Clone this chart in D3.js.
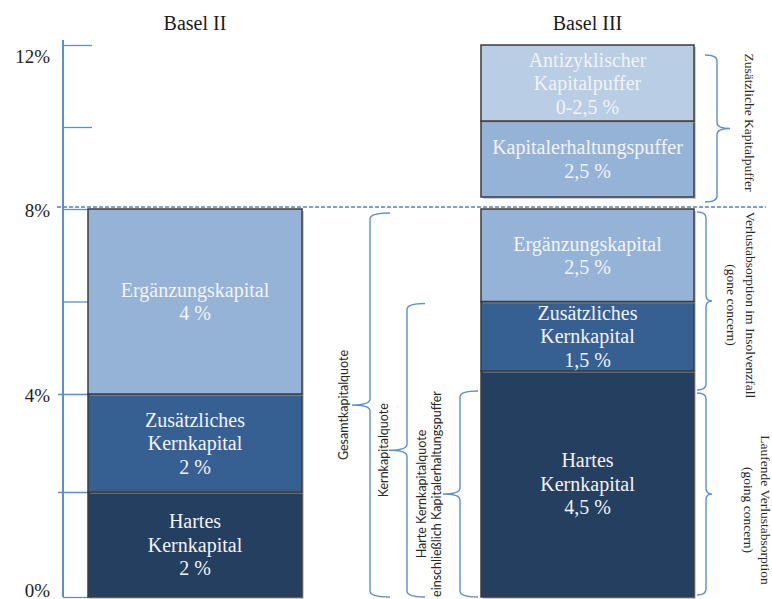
<!DOCTYPE html>
<html lang="de">
<head>
<meta charset="utf-8">
<title>Basel II / Basel III</title>
<script src="https://d3js.org/d3.v7.min.js"></script>
<style>
  body { margin: 0; background: #fff; }
  svg text { font-family: "Liberation Serif", "Times New Roman", serif; }
  svg text.sans { font-family: Lato, "Liberation Sans", sans-serif; }
</style>
</head>
<body>
<svg id="chart" width="772" height="599"></svg>
<script>
// ---- data ----
var frameworks = ["Basel II", "Basel III"];

var basel2Names = [["Hartes", "Kernkapital"], ["Zusätzliches", "Kernkapital"], ["Ergänzungskapital"]];
var basel2Values = [2, 2, 4];
var basel2Labels = ["2 %", "2 %", "4 %"];

var basel3Names = [["Hartes", "Kernkapital"], ["Zusätzliches", "Kernkapital"], ["Ergänzungskapital"]];
var basel3Values = [4.5, 1.5, 2.5];
var basel3Labels = ["4,5 %", "1,5 %", "2,5 %"];

var bufferNames = [["Kapitalerhaltungspuffer"], ["Antizyklischer", "Kapitalpuffer"]];
var bufferValues = [2.5, 2.5];
var bufferLabels = ["2,5 %", "0-2,5 %"];

var totalCap = 8; // Gesamtkapitalquote, top of the minimum block

var yTicks = [0, 2, 4, 6, 8, 10, 12];
var yTickLabels = ["0%", "", "4%", "", "8%", "", "12%"];

var midBraces = [
  {label: ["Gesamtkapitalquote"], from: 0, to: 8},
  {label: ["Kernkapitalquote"], from: 0, to: 6},
  {label: ["Harte Kernkapitalquote", "einschließlich Kapitalerhaltungspuffer"], from: 0, to: 4}
];
var rightBraces = [
  {label: ["Verlustabsorption im Insolvenzfall", "(gone concern)"], from: 4, to: 8},
  {label: ["Laufende Verlustabsorption", "(going concern)"], from: 0, to: 4}
];
var bufferBrace = {label: ["Zusätzliche Kapitalpuffer"], from: 0, to: 5};

// ---- layout ----
var svg = d3.select("#chart");
var blue = "#5b8fd0";

// schematic (not to scale) axis, piecewise
var y = d3.scaleLinear().domain([0, 2, 4, 8, 12]).range([597, 492, 394, 209, 45]);
var yBuf = d3.scaleLinear().domain([0, 5]).range([y(totalCap) - 12, y(12)]);

var xLeft = d3.scaleOrdinal().domain(frameworks).range([88, 481]);
var xRight = d3.scaleOrdinal().domain(frameworks).range([302, 694]);

var darkCol = d3.scaleOrdinal().domain(["Hartes", "Zusätzliches", "Ergänzungskapital"])
  .range(["#243f60", "#376092", "#95b3d7"]);
var bufCol = d3.scaleOrdinal().domain(["Kapitalerhaltungspuffer", "Antizyklischer"])
  .range(["#95b3d7", "#b9cde5"]);

function stack(values, names, labels) {
  var c = 0;
  return values.map(function (v, i) {
    var s = {y0: c, y1: c + v, name: names[i], label: labels[i]};
    c += v;
    return s;
  });
}

// axis
var axis = d3.axisRight(y).tickValues(yTicks).tickSize(29).tickSizeOuter(0).tickFormat("");
var gAxis = svg.append("g").attr("transform", "translate(63,0)").call(axis);
gAxis.select(".domain").remove();
gAxis.selectAll(".tick line").attr("stroke", blue).attr("stroke-width", 1.3)
  .attr("x1", function (d) { return (d == 2 || d == 4) ? -5 : 0; });
svg.append("line").attr("x1", 63).attr("x2", 63).attr("y1", y(12) - 5).attr("y2", y(0))
  .attr("stroke", blue).attr("stroke-width", 2);

svg.append("g").selectAll("text").data(yTicks.filter(function (d, i) { return yTickLabels[i]; }))
  .join("text")
  .attr("x", 50).attr("text-anchor", "end")
  .attr("y", function (d) { return Math.min(Math.max(y(d) + 1, 56), 590); })
  .attr("dominant-baseline", "central")
  .attr("font-size", 19).attr("fill", "#222")
  .text(function (d) { return yTickLabels[yTicks.indexOf(d)]; });

// titles
svg.append("g").selectAll("text").data(frameworks).join("text")
  .attr("x", function (d) { return (xLeft(d) + xRight(d)) / 2; })
  .attr("y", 30).attr("text-anchor", "middle")
  .attr("font-size", 20).attr("fill", "#1a1a1a")
  .text(function (d) { return d; });

// boxes
function drawBox(fw, s, ys, fill) {
  var x0 = xLeft(fw), x1 = xRight(fw);
  var top = ys(s.y1), bot = ys(s.y0);
  svg.append("rect").attr("x", x0 + 2).attr("y", top + 2).attr("width", x1 - x0).attr("height", bot - top)
    .attr("fill", "#999").attr("opacity", 0.5);
  svg.append("rect").attr("x", x0).attr("y", top).attr("width", x1 - x0).attr("height", bot - top)
    .attr("fill", fill).attr("stroke", "#3b3b3b").attr("stroke-width", 1.5);
  var lines = s.name.concat([s.label]);
  var cy = (top + bot) / 2, lh = 23.5;
  svg.append("g").selectAll("text").data(lines).join("text")
    .attr("x", (x0 + x1) / 2)
    .attr("y", function (d, i) { return cy + (i - (lines.length - 1) / 2) * lh; })
    .attr("dominant-baseline", "central").attr("text-anchor", "middle")
    .attr("font-size", 20).attr("fill", "#f3f3f3")
    .text(function (d) { return d; });
}

stack(basel2Values, basel2Names, basel2Labels).forEach(function (s) {
  drawBox("Basel II", s, y, darkCol(s.name[0]));
});
stack(basel3Values, basel3Names, basel3Labels).forEach(function (s) {
  var c = {y0: s.y0, y1: Math.min(s.y1, totalCap), name: s.name, label: s.label};
  drawBox("Basel III", c, y, darkCol(s.name[0]));
});
stack(bufferValues, bufferNames, bufferLabels).forEach(function (s) {
  drawBox("Basel III", s, yBuf, bufCol(s.name[0]));
});

// dashed 8% line
svg.append("line").attr("x1", 57).attr("x2", 766).attr("y1", y(totalCap) - 2).attr("y2", y(totalCap) - 2)
  .attr("stroke", "#4f81bd").attr("stroke-width", 1.5).attr("stroke-dasharray", "4,2");

// braces
function bracePath(x, yTop, yBot, arm, tip) {
  var r = 6, ym = (yTop + yBot) / 2;
  return "M" + (x + arm) + "," + yTop +
    " Q" + x + "," + yTop + " " + x + "," + (yTop + r) +
    " L" + x + "," + (ym - r) +
    " Q" + x + "," + ym + " " + (x + tip) + "," + ym +
    " Q" + x + "," + ym + " " + x + "," + (ym + r) +
    " L" + x + "," + (yBot - r) +
    " Q" + x + "," + yBot + " " + (x + arm) + "," + yBot;
}

function drawBrace(b, ys, o) {
  var yTop = ys(b.to) + o.insetTop, yBot = ys(b.from) - o.insetBot;
  svg.append("path").attr("d", bracePath(o.x, yTop, yBot, o.arm, o.tip))
    .attr("fill", "none").attr("stroke", blue).attr("stroke-width", 1.4);
  var cy = (yTop + yBot) / 2 + (o.shift || 0);
  var n = b.label.length;
  var g = svg.append("g").attr("transform", "translate(" + o.tx + "," + cy + ") rotate(" + o.rot + ")");
  g.selectAll("text").data(b.label).join("text")
    .attr("class", o.cls)
    .attr("x", 0).attr("y", function (d, i) { return (i - (n - 1) / 2) * o.lh; })
    .attr("text-anchor", "middle").attr("dominant-baseline", "central")
    .attr("font-size", o.size).attr("fill", "#262626")
    .text(function (d) { return d; });
}

var midLayout = [
  {x: 370, arm: 20, tip: -18, insetTop: 4, insetBot: 0, tx: 343, rot: -90, lh: 15, size: 12.5, cls: "sans"},
  {x: 407, arm: 18, tip: -18, insetTop: 2, insetBot: 0, tx: 383, rot: -90, lh: 15, size: 12.5, cls: "sans"},
  {x: 460, arm: 18, tip: -17, insetTop: -3, insetBot: 0, tx: 429, rot: -90, lh: 15, size: 12.5, cls: "sans"}
];
midBraces.forEach(function (b, i) { drawBrace(b, y, midLayout[i]); });

var rightLayout = [
  {x: 706, arm: -9, tip: 6, insetTop: 3, insetBot: 4, tx: 741, rot: 90, lh: 19, size: 13.5, cls: "serif", shift: 4},
  {x: 706, arm: -9, tip: 6, insetTop: -1, insetBot: 2, tx: 757, rot: 90, lh: 17, size: 13.5, cls: "serif", shift: 16}
];
rightBraces.forEach(function (b, i) { drawBrace(b, y, rightLayout[i]); });

drawBrace(bufferBrace, yBuf,
  {x: 717, arm: -12, tip: 13, insetTop: 10, insetBot: -5, tx: 749, rot: 90, lh: 17, size: 13.5, cls: "serif", shift: -6});
</script>
</body>
</html>
